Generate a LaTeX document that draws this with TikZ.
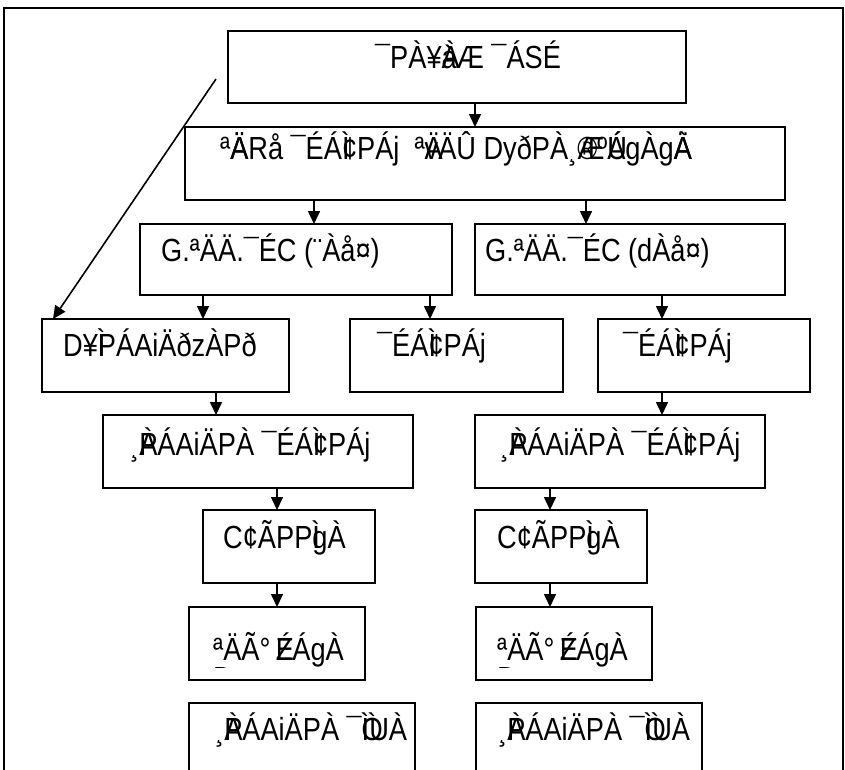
\documentclass[tikz,border=0pt]{standalone}
\usepackage{fontspec}
\setmainfont{Liberation Sans}[FakeStretch=0.85]
\usetikzlibrary{arrows.meta,fit,calc}
\newcommand\olap[1]{\makebox[0pt][r]{#1}}
\newcommand\orap[1]{\makebox[0pt][l]{#1}}
\tikzset{
  box/.style={draw=black, line width=2.6pt, inner sep=0pt, outer sep=0pt, fill=none},
  txt/.style={anchor=base west, inner sep=0pt, font=\fontsize{32}{25}\selectfont},
  arr/.style={draw=black, line width=1.6pt, -{Triangle[length=13pt,width=12pt]}},
}
\begin{document}
\begin{tikzpicture}[x=1pt,y=-1pt]
\useasboundingbox (0,0) rectangle (845,769);
\clip (0,0) rectangle (845,769);
\fill[white] (0,0) rectangle (845,769);
\draw[line width=2pt] (4,8) rectangle (843,820);
% boxes
\node[box, fit={(228,31) (686,103)}] (top) {};
\node[box, fit={(185,127) (785,200)}] (b2) {};
\node[box, fit={(140,224) (452,295)}] (b3l) {};
\node[box, fit={(475,224) (785,295)}] (b3r) {};
\node[box, fit={(42,319) (289,392)}] (b4l) {};
\node[box, fit={(350,319) (563,392)}] (b4m) {};
\node[box, fit={(598,319) (810,392)}] (b4r) {};
\node[box, fit={(103,415) (413,488)}] (b5l) {};
\node[box, fit={(475,415) (765,488)}] (b5r) {};
\node[box, fit={(203,510) (375,583)}] (b6l) {};
\node[box, fit={(475,510) (647,583)}] (b6r) {};
\node[box, fit={(189,607) (365,680)}] (b7l) {};
\node[box, fit={(476,607) (652,680)}] (b7r) {};
\node[box, fit={(189,703) (415,820)}] (b8l) {};
\node[box, fit={(476,703) (702,820)}] (b8r) {};
% texts
\node[txt] (t1) at (375,68) {¯PÀ¥\orap{À}àÆ ¯ÁSÉ};
\node[txt] (t2) at (220,159) {ª\orap{Ä}ÄRå ¯ÉÁ\orap{Ì}¢PÁj\ \ ª\orap{Ä}vÄÛ DyðPÀ¸\orap{Æ}®º\orap{Ú}ÁgÀg\orap{À}Ä};
\node[txt] (t3l) at (161,261) {G.ªÄÄ.¯ÉC (¨Àå¤)};
\node[txt] (t3r) at (485,261) {G.ªÄÄ.¯ÉC (dÀå¤)};
\node[txt] (t4l) at (63,356) {D¥\orap{Ì}PÁAiÄðzÀPð};
\node[txt] (t4m) at (377,356) {¯ÉÁ\orap{Ì}¢PÁj};
\node[txt] (t4r) at (623,356) {¯ÉÁ\orap{Ì}¢PÁj};
\node[txt] (t5l) at (130,455) {¸\orap{À}PÁAiÄPÀ ¯ÉÁ\orap{Ì}¢PÁj};
\node[txt] (t5r) at (500,455) {¸\orap{À}PÁAiÄPÀ ¯ÉÁ\orap{Ì}¢PÁj};
\node[txt] (t6l) at (223,548) {C¢ÃPP\orap{Ì}gÀ};
\node[txt] (t6r) at (497,548) {C¢ÃPP\orap{Ì}gÀ};
\begin{scope}
\clip (189,607) rectangle (365,667);
\node[txt] (t7l) at (213,660) {\vtop{\baselineskip=25pt\hbox{ªÄÃ°\,\orap{É}ZÁgÀ}\hbox{D}}};
\end{scope}
\begin{scope}
\clip (476,607) rectangle (652,667);
\node[txt] (t7r) at (497,660) {\vtop{\baselineskip=25pt\hbox{ªÄÃ°\,\orap{É}ZÁgÀ}\hbox{D}}};
\end{scope}
\node[txt] (t8l) at (215,740) {¸\orap{À}PÁAiÄPÀ ¯\orap{Ò}ÌUÀ};
\node[txt] (t8r) at (498,740) {¸\orap{À}PÁAiÄPÀ ¯\orap{Ò}ÌUÀ};
% connector x positions
\coordinate (xa) at (475,0);
\coordinate (xb) at (314,0);
\coordinate (xc) at (586,0);
\coordinate (xd) at (203,0);
\coordinate (xe) at (430,0);
\coordinate (xf) at (662,0);
\coordinate (xg) at (216,0);
\coordinate (xh) at (277,0);
\coordinate (xi) at (550,0);
\coordinate (dstart) at (216,79);
% arrows
\draw[arr] (top.south -| xa) -- (b2.north -| xa);
\draw[arr] (b2.south -| xb) -- (b3l.north -| xb);
\draw[arr] (b2.south -| xc) -- (b3r.north -| xc);
\draw[arr] (b3l.south -| xd) -- (b4l.north -| xd);
\draw[arr] (b3l.south -| xe) -- (b4m.north -| xe);
\draw[arr] (b3r.south -| xf) -- (b4r.north -| xf);
\draw[arr] (b4l.south -| xg) -- (b5l.north -| xg);
\draw[arr] (b4r.south -| xf) -- (b5r.north -| xf);
\draw[arr] (b5l.south -| xh) -- (b6l.north -| xh);
\draw[arr] (b5r.south -| xi) -- (b6r.north -| xi);
\draw[arr] (b6l.south -| xh) -- (b7l.north -| xh);
\draw[arr] (b6r.south -| xi) -- (b7r.north -| xi);
\draw[arr] (dstart) -- ($(b4l.north west)+(11,0)$);
\end{tikzpicture}
\end{document}
